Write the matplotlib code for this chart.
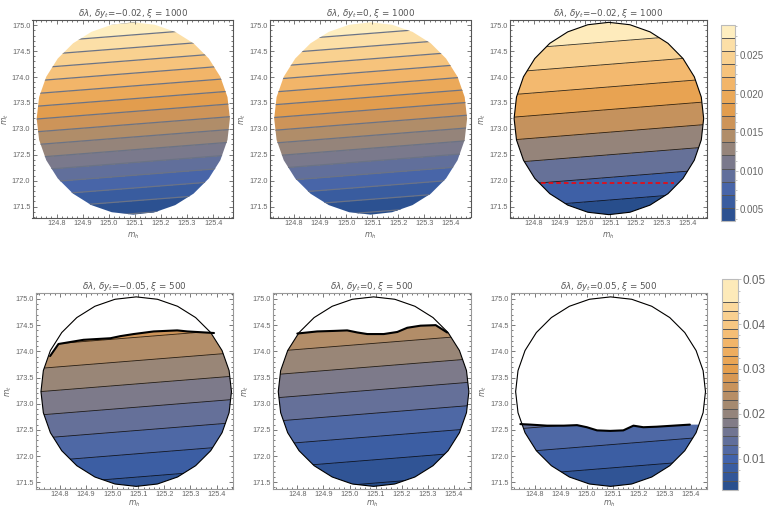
import numpy as np
import matplotlib
matplotlib.use("Agg")
import matplotlib.pyplot as plt
from matplotlib.colors import LinearSegmentedColormap, ListedColormap, BoundaryNorm, Normalize
from matplotlib.cm import ScalarMappable
from matplotlib.patches import Polygon
from matplotlib.ticker import MultipleLocator, FormatStrFormatter
from matplotlib import font_manager

plt.rcParams['mathtext.fontset'] = 'dejavusans'

# narrow face for tick labels if present
installed = {f.name for f in font_manager.fontManager.ttflist}
tick_font = 'Liberation Sans Narrow' if 'Liberation Sans Narrow' in installed else 'Liberation Sans'
plt.rcParams['font.family'] = [tick_font, 'DejaVu Sans']

W, H = 767, 509

# coarse grid the fields are read on (rows = m_t, cols = m_h)
mh_grid = [124.6, 125.6]
mt_grid = [171.2, 175.2]

z_tl = [[0.0037, 0.0010], [0.0312, 0.0285]]      # dy_t=-0.02, xi=1000
z_tm = [[0.0035, 0.0008], [0.0310, 0.0283]]      # dy_t=0, xi=1000
z_tr = z_tl
z_bl = [[0.00565, 0.00296], [0.03261, 0.02992]]  # dy_t=-0.05, xi=500
z_bm = [[0.00343, 0.00073], [0.03039, 0.02770]]  # dy_t=0, xi=500
z_br = [[0.00447, 0.00178], [0.03143, 0.02874]]  # dy_t=0.05, xi=500

# upper edge of the allowed region, xi=500 panels
edge_bl_mh = [124.762, 124.794, 124.890, 124.993, 125.031, 125.082, 125.159, 125.249, 125.288, 125.390]
edge_bl_mt = [173.91, 174.14, 174.22, 174.25, 174.29, 174.33, 174.38, 174.40, 174.38, 174.35]
edge_bm_mh = [124.800, 124.876, 124.940, 124.991, 125.030, 125.068, 125.131, 125.183, 125.221, 125.272, 125.330, 125.374]
edge_bm_mt = [174.34, 174.38, 174.39, 174.40, 174.36, 174.33, 174.33, 174.37, 174.45, 174.49, 174.50, 174.36]
edge_br_mh = [124.745, 124.784, 124.848, 124.912, 124.963, 125.001, 125.040, 125.090, 125.141, 125.180, 125.218, 125.269, 125.333, 125.397]
edge_br_mt = [172.61, 172.60, 172.58, 172.58, 172.59, 172.55, 172.49, 172.48, 172.49, 172.58, 172.55, 172.56, 172.58, 172.60]

red_mh = [124.83, 125.35]
red_mt = [171.96, 171.96]

titles = [r'$\delta\lambda$, $\delta y_t$=−0.02, $\xi$ = 1000',
          r'$\delta\lambda$, $\delta y_t$=0, $\xi$ = 1000',
          r'$\delta\lambda$, $\delta y_t$=−0.02, $\xi$ = 1000',
          r'$\delta\lambda$, $\delta y_t$=−0.05, $\xi$ = 500',
          r'$\delta\lambda$, $\delta y_t$=0, $\xi$ = 500',
          r'$\delta\lambda$, $\delta y_t$=0.05, $\xi$ = 500']

top_vmin, top_vmax = 0.0035, 0.0289
bot_vmin, bot_vmax = 0.003, 0.05
top_cb_levels = np.linspace(top_vmin, top_vmax, 16)
bot_cb_levels = np.append(np.arange(0.003, 0.0455, 0.002), 0.05)
step = (top_vmax - top_vmin) / 15
fine_levels = np.linspace(top_vmin - step, top_vmax + step, 18)
tr_levels = np.arange(-0.0007, 0.034, 0.003)
bot_levels = np.arange(-0.002, 0.04, 0.003)

cmap = LinearSegmentedColormap.from_list('m10', [
    (0.00, (0.15, 0.30, 0.54)),
    (0.15, (0.26, 0.39, 0.67)),
    (0.28, (0.45, 0.46, 0.57)),
    (0.38, (0.61, 0.53, 0.46)),
    (0.50, (0.80, 0.58, 0.35)),
    (0.58, (0.90, 0.62, 0.30)),
    (0.70, (0.95, 0.71, 0.41)),
    (0.85, (0.98, 0.83, 0.58)),
    (1.00, (1.00, 0.96, 0.80)),
])


def px(l, t, r, b):
    return [l / W, 1 - b / H, (r - l) / W, (b - t) / H]


def ellipse(cx, cy, a, b, n=28):
    ang = np.linspace(0, 2 * np.pi, n, endpoint=False)
    return np.column_stack([cx + a * np.cos(ang), cy + b * np.sin(ang)])


top_shape = ellipse(125.094, 173.20, 0.370, 1.855)
bot_shape = ellipse(125.092, 173.23, 0.365, 1.810)

fig = plt.figure(figsize=(W / 100, H / 100), dpi=100)

panels = [
    (px(32.5, 20, 233.3, 217.5), z_tl, fine_levels, top_vmin, top_vmax, 'gray', None),
    (px(270, 20, 470.5, 217.5), z_tm, fine_levels, top_vmin, top_vmax, 'gray', None),
    (px(510, 20, 707, 217.5), z_tr, tr_levels, top_vmin, top_vmax, 'black', None),
    (px(36, 292.7, 233.3, 489), z_bl, bot_levels, bot_vmin, bot_vmax, 'black', (edge_bl_mh, edge_bl_mt)),
    (px(273.3, 292.7, 470.7, 489), z_bm, bot_levels, bot_vmin, bot_vmax, 'black', (edge_bm_mh, edge_bm_mt)),
    (px(510.7, 292.7, 707.3, 489), z_br, bot_levels, bot_vmin, bot_vmax, 'black', (edge_br_mh, edge_br_mt)),
]

for i, (pos, z, levels, vmin, vmax, style, edge) in enumerate(panels):
    ax = fig.add_axes(pos)
    top = i < 3
    shape = top_shape if top else bot_shape
    norm = Normalize(vmin, vmax)

    clip = Polygon(shape, closed=True, transform=ax.transData)
    cf = ax.contourf(mh_grid, mt_grid, np.array(z), levels=levels, cmap=cmap, norm=norm, zorder=1)
    cf.set_clip_path(clip)
    if style == 'gray':
        cl = ax.contour(mh_grid, mt_grid, np.array(z), levels=levels, colors=[(0.42, 0.45, 0.52)],
                        linewidths=0.9, zorder=2)
    else:
        cl = ax.contour(mh_grid, mt_grid, np.array(z), levels=levels, colors='black',
                        linewidths=0.6, alpha=0.8, zorder=2)
    cl.set_clip_path(clip)

    if edge is not None:
        emh, emt = edge
        cover = [(124.0, emt[0])] + list(zip(emh, emt)) + [(126.0, emt[-1]), (126.0, 176.0), (124.0, 176.0)]
        wp = Polygon(cover, closed=True, facecolor='white', edgecolor='none', zorder=3)
        ax.add_patch(wp)
        wp.set_clip_path(clip)
        ax.plot(emh, emt, color='black', lw=1.5, zorder=4, solid_capstyle='round')

    if style == 'black':
        ax.add_patch(Polygon(shape, closed=True, fill=False, edgecolor='black', lw=0.8, zorder=5))

    if i == 2:
        ax.plot(red_mh, red_mt, color='red', lw=1.1, dashes=(3, 2), zorder=6)

    if top:
        ax.set_xlim(124.708, 125.477)
        ax.set_ylim(171.29, 175.10)
    else:
        ax.set_xlim(124.708, 125.464)
        ax.set_ylim(171.37, 175.12)

    ax.set_xticks([124.8, 124.9, 125.0, 125.1, 125.2, 125.3, 125.4])
    ax.set_yticks([171.5, 172.0, 172.5, 173.0, 173.5, 174.0, 174.5, 175.0])
    ax.xaxis.set_major_formatter(FormatStrFormatter('%.1f'))
    ax.yaxis.set_major_formatter(FormatStrFormatter('%.1f'))
    ax.xaxis.set_minor_locator(MultipleLocator(0.02))
    ax.yaxis.set_minor_locator(MultipleLocator(0.1))
    ax.tick_params(which='both', direction='in', top=True, right=True, width=0.5,
                   color='#444', labelsize=5.3, labelcolor='#666', pad=1.5)
    ax.tick_params(which='major', length=3)
    ax.tick_params(which='minor', length=1.5)
    for sp in ax.spines.values():
        sp.set_color('#555' if top else '#999')
        sp.set_linewidth(0.8)

    ax.set_title(titles[i], fontsize=6.3, color='#555', pad=2.5, family='DejaVu Sans')
    ax.set_xlabel(r'$m_h$', fontsize=5.5, color='#666', labelpad=3 if top else 0.5)
    ax.set_ylabel(r'$m_t$', fontsize=5.5, color='#666', labelpad=1)


def band_colorbar(pos, levels, vmin, vmax, ticks, fmt, fs, minor):
    cax = fig.add_axes(pos)
    mids = (levels[:-1] + levels[1:]) / 2
    colors = cmap(Normalize(vmin, vmax)(mids))
    sm = ScalarMappable(norm=BoundaryNorm(levels, len(colors)), cmap=ListedColormap(colors))
    cb = fig.colorbar(sm, cax=cax, drawedges=True, spacing='proportional', ticks=ticks)
    cb.dividers.set_color('#555')
    cb.dividers.set_linewidth(0.7)
    cb.outline.set_edgecolor('#bbb')
    cb.outline.set_linewidth(0.8)
    cax.yaxis.set_major_formatter(FormatStrFormatter(fmt))
    cax.yaxis.set_minor_locator(MultipleLocator(minor))
    cax.tick_params(which='both', direction='out', width=0.5, color='#aaa',
                    labelsize=fs, labelcolor='#666', pad=1)
    cax.tick_params(which='major', length=2.5)
    cax.tick_params(which='minor', length=1.2)
    return cb


band_colorbar(px(721, 25, 735, 220.7), top_cb_levels, top_vmin, top_vmax,
              [0.005, 0.010, 0.015, 0.020, 0.025], '%.3f', 7, 0.00125)
band_colorbar(px(722, 279.3, 738, 490), bot_cb_levels, bot_vmin, bot_vmax,
              [0.01, 0.02, 0.03, 0.04, 0.05], '%.2f', 8.5, 0.0025)

fig.savefig('out.png', dpi=100)
